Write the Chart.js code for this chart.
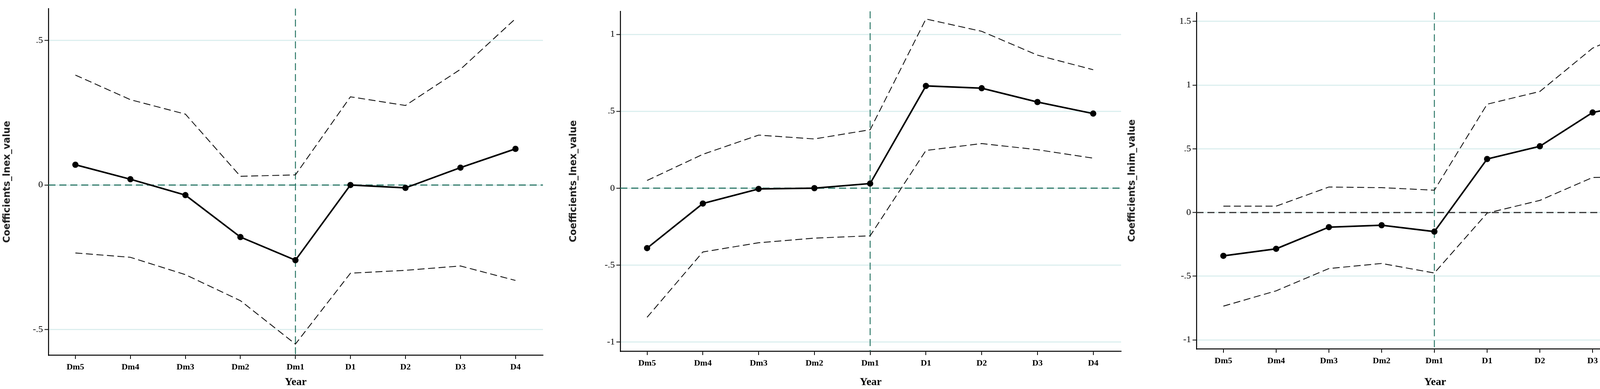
<!DOCTYPE html>
<html>
<head>
<meta charset="utf-8">
<script src="https://cdn.jsdelivr.net/npm/chart.js@4/dist/chart.umd.min.js"></script>
<style>
  html, body { margin: 0; padding: 0; background: #fff; overflow: hidden; }
  canvas { position: absolute; top: 0; }
</style>
</head>
<body>
<canvas id="c1" width="1400" height="997" style="left:0;width:1400px;height:997px"></canvas>
<canvas id="c2" width="1430" height="997" style="left:1450px;width:1430px;height:997px"></canvas>
<canvas id="c3" width="1415" height="997" style="left:2880px;width:1415px;height:997px"></canvas>
<script>
var years = ["Dm5", "Dm4", "Dm3", "Dm2", "Dm1", "D1", "D2", "D3", "D4"];

// panel 1: lnex
var coef1 = [0.07, 0.02, -0.035, -0.18, -0.26, 0, -0.01, 0.06, 0.125];
var upper1 = [0.38, 0.295, 0.245, 0.03, 0.035, 0.305, 0.275, 0.40, 0.575];
var lower1 = [-0.235, -0.25, -0.31, -0.40, -0.55, -0.305, -0.295, -0.28, -0.33];
var yTicks1 = [-0.5, 0, 0.5];

// panel 2: lnex
var coef2 = [-0.39, -0.1, -0.005, 0, 0.03, 0.665, 0.65, 0.56, 0.485];
var upper2 = [0.05, 0.22, 0.345, 0.32, 0.38, 1.1, 1.02, 0.865, 0.77];
var lower2 = [-0.84, -0.415, -0.355, -0.325, -0.31, 0.245, 0.29, 0.25, 0.195];
var yTicks2 = [-1, -0.5, 0, 0.5, 1];

// panel 3: lnim
var coef3 = [-0.34, -0.285, -0.115, -0.1, -0.15, 0.42, 0.52, 0.785, 0.87];
var upper3 = [0.05, 0.05, 0.2, 0.195, 0.175, 0.85, 0.95, 1.29, 1.47];
var lower3 = [-0.735, -0.615, -0.44, -0.4, -0.475, -0.005, 0.095, 0.275, 0.28];
var yTicks3 = [-1, -0.5, 0, 0.5, 1, 1.5];

function fmt(v) {
  return String(v).replace("0.", ".");
}

function pts(arr) {
  return arr.map(function (v, i) { return { x: i, y: v }; });
}

// reference lines at Dm1 and y = 0
var refLines = {
  id: "refLines",
  beforeDatasetsDraw: function (chart, args, opt) {
    var ctx = chart.ctx, a = chart.chartArea;
    var x = chart.scales.x.getPixelForValue(4);
    var y = chart.scales.y.getPixelForValue(0);
    ctx.save();
    ctx.lineWidth = 2.5;
    ctx.setLineDash([18, 10]);
    ctx.strokeStyle = "#2f7a6a";
    ctx.beginPath(); ctx.moveTo(x, a.top); ctx.lineTo(x, a.bottom); ctx.stroke();
    ctx.lineWidth = 3;
    ctx.strokeStyle = opt.hColor;
    ctx.beginPath(); ctx.moveTo(a.left, y); ctx.lineTo(a.right, y); ctx.stroke();
    ctx.restore();
  }
};

function makeChart(id, cfg) {
  var dashed = { borderColor: "#111", borderWidth: 2.2, borderDash: [18, 9], pointRadius: 0, fill: false };
  new Chart(document.getElementById(id), {
    type: "line",
    data: {
      datasets: [
        Object.assign({ data: pts(cfg.upper) }, dashed),
        Object.assign({ data: pts(cfg.lower) }, dashed),
        { data: pts(cfg.coef), borderColor: "#000", backgroundColor: "#000", borderWidth: 4, pointRadius: 6 }
      ]
    },
    options: {
      responsive: false,
      devicePixelRatio: 1,
      animation: false,
      layout: { padding: { top: cfg.top, right: cfg.right } },
      plugins: { legend: { display: false }, tooltip: { enabled: false }, refLines: { hColor: cfg.hColor } },
      scales: {
        x: {
          type: "linear", min: cfg.xmin, max: cfg.xmax,
          afterBuildTicks: function (s) { s.ticks = years.map(function (_, i) { return { value: i }; }); },
          afterFit: function (s) { s.height = cfg.xh; },
          ticks: {
            callback: function (v) { return years[v]; },
            color: "#000", font: { family: "Liberation Serif", size: 22, weight: "bold" }, padding: 8, maxRotation: 0
          },
          grid: { drawOnChartArea: false, drawTicks: true, tickLength: 10, color: "#000", lineWidth: 2 },
          border: { color: "#000", width: 2.5 },
          title: { display: true, text: "Year", color: "#000", font: { family: "Liberation Serif", size: 28, weight: "bold" }, padding: 0 }
        },
        y: {
          min: cfg.ymin, max: cfg.ymax,
          afterBuildTicks: function (s) { s.ticks = cfg.yTicks.map(function (v) { return { value: v }; }); },
          afterFit: function (s) { s.width = cfg.yw; },
          ticks: {
            callback: function (v) { return fmt(v); },
            color: "#000", font: { family: "Liberation Serif", size: 24 }, padding: 4
          },
          grid: {
            color: "#dcefef", lineWidth: 3, drawTicks: true, tickLength: 10,
            tickColor: "#000", tickWidth: 2
          },
          border: { color: "#000", width: 2.5 },
          title: { display: true, text: cfg.title, color: "#222", font: { family: "DejaVu Sans", size: 24, weight: "bold" }, padding: 4 }
        }
      }
    },
    plugins: [refLines]
  });
}

makeChart("c1", { coef: coef1, upper: upper1, lower: lower1, yTicks: yTicks1, ymin: -0.588, ymax: 0.61,
  xmin: -0.49, xmax: 8.5, top: 22, right: 10, xh: 87, yw: 124, title: "Coefficients_lnex_value", hColor: "#2f7a6a" });
makeChart("c2", { coef: coef2, upper: upper2, lower: lower2, yTicks: yTicks2, ymin: -1.06, ymax: 1.15,
  xmin: -0.48, xmax: 8.5, top: 29, right: 10, xh: 97, yw: 138, title: "Coefficients_lnex_value", hColor: "#2f7a6a" });
makeChart("c3", { coef: coef3, upper: upper3, lower: lower3, yTicks: yTicks3, ymin: -1.07, ymax: 1.57,
  xmin: -0.51, xmax: 8.54, top: 32, right: 0, xh: 103, yw: 183, title: "Coefficients_lnim_value", hColor: "#333" });
</script>
</body>
</html>
